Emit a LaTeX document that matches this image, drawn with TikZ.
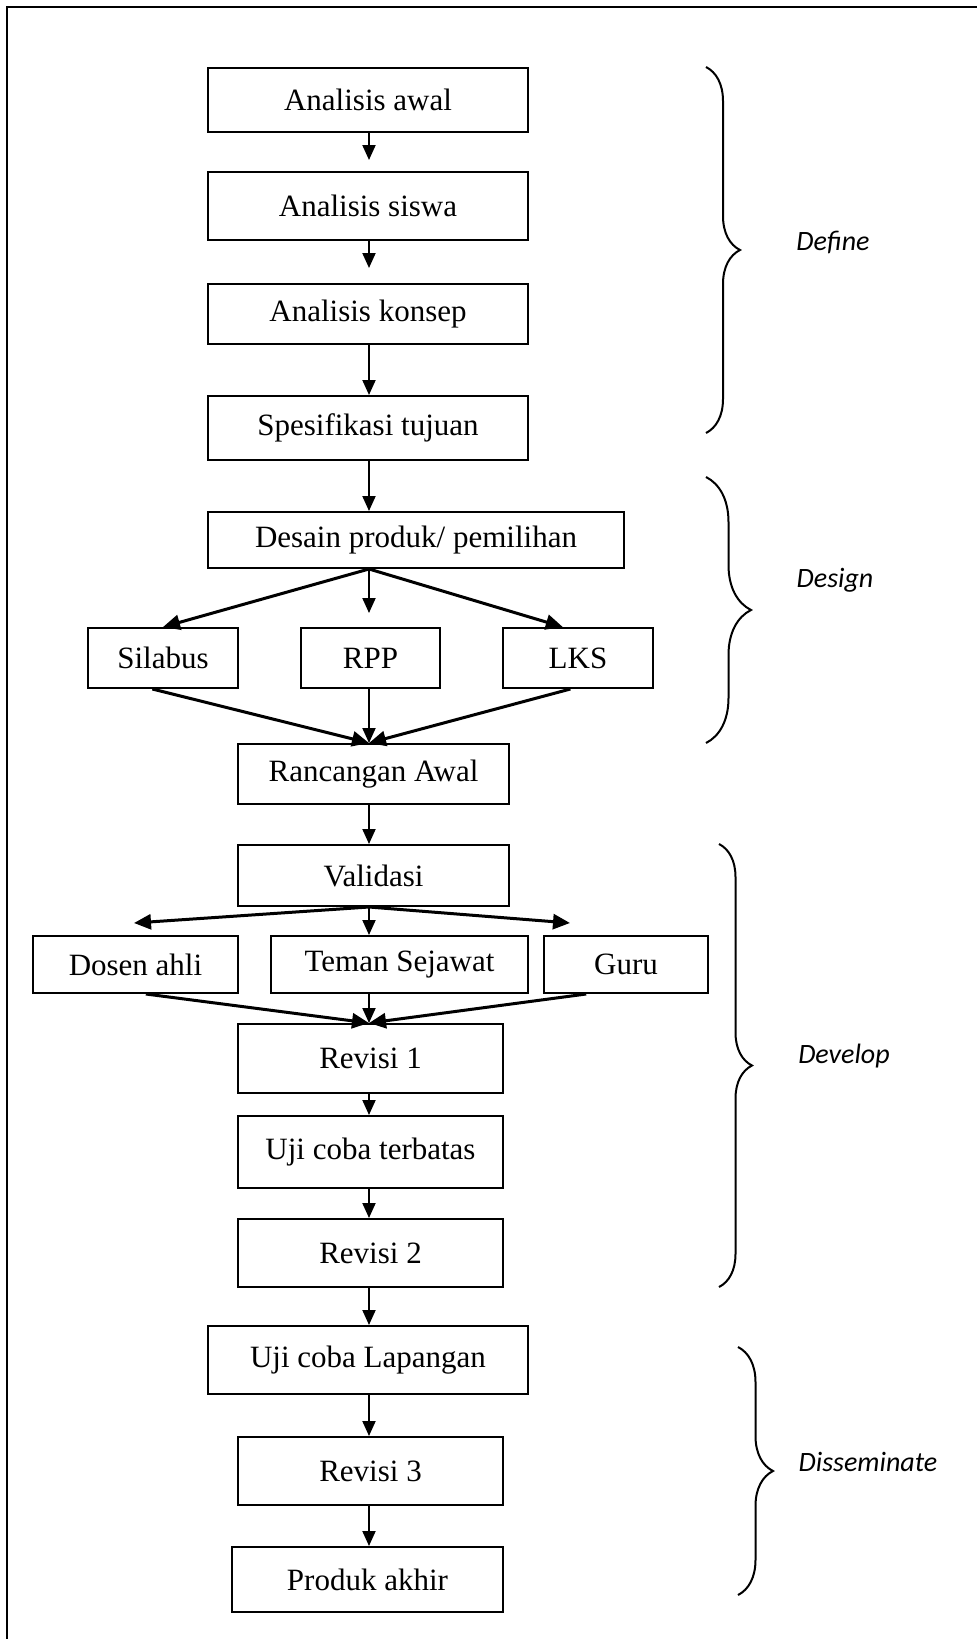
\documentclass[tikz,border=0pt]{standalone}
\usepackage{fontspec}
\setmainfont{Liberation Serif}
\newfontfamily\labfont{Carlito}
\usetikzlibrary{arrows.meta,calc,decorations.pathreplacing}
\begin{document}
\begin{tikzpicture}[x=1pt,y=-1pt,
 box/.style={draw,line width=2pt,inner sep=0pt,anchor=north west,font=\fontsize{31}{36}\selectfont},
 arr/.style={line width=2pt,-{Triangle[length=15pt,width=13pt]}},
 darr/.style={line width=3pt,-{Triangle[length=17pt,width=15pt]}},
 brc/.style={decorate,decoration={brace,amplitude=#1},line width=2pt},
 lab/.style={font=\labfont\itshape\fontsize{28}{34}\selectfont}]
\useasboundingbox (0,0) rectangle (977,1639);
\draw[line width=2.5pt] (7,1639) -- (7,7) -- (977,7);
\coordinate (mx) at (369,0);
% boxes
\node[box,minimum width=320pt,minimum height=64pt] (a1) at (207,67) {Analisis awal};
\node[box,minimum width=320pt,minimum height=68pt] (a2) at (207,171) {Analisis siswa};
\node[box,minimum width=320pt,minimum height=60pt] (a3) at (207,283) {Analisis konsep};
\node[box,minimum width=320pt,minimum height=64pt] (a4) at (207,395) {Spesifikasi tujuan};
\node[box,minimum width=416pt,minimum height=56pt] (d1) at (207,511) {Desain produk/ pemilihan};
\node[box,minimum width=150pt,minimum height=60pt] (s1) at (87,627) {Silabus};
\node[box,minimum width=139pt,minimum height=60pt] (s2) at (300,627) {RPP};
\node[box,minimum width=150pt,minimum height=60pt] (s3) at (502,627) {LKS};
\node[box,minimum width=271pt,minimum height=60pt] (r0) at (237,743) {Rancangan Awal};
\node[box,minimum width=271pt,minimum height=61pt] (v) at (237,844) {Validasi};
\node[box,minimum width=205pt,minimum height=57pt] (v1) at (32,935) {Dosen ahli};
\node[box,minimum width=257pt,minimum height=57pt] (v2) at (270,935) {Teman Sejawat};
\node[box,minimum width=164pt,minimum height=57pt] (v3) at (543,935) {Guru};
\node[box,minimum width=265pt,minimum height=69pt] (rv1) at (237,1023) {Revisi 1};
\node[box,minimum width=265pt,minimum height=72pt] (u1) at (237,1115) {Uji coba terbatas};
\node[box,minimum width=265pt,minimum height=68pt] (rv2) at (237,1218) {Revisi 2};
\node[box,minimum width=320pt,minimum height=68pt] (u2) at (207,1325) {Uji coba Lapangan};
\node[box,minimum width=265pt,minimum height=68pt] (rv3) at (237,1436) {Revisi 3};
\node[box,minimum width=271pt,minimum height=65pt] (pa) at (231,1546) {Produk akhir};
% free ends
\coordinate (dmid) at (369,613);
\coordinate (vl) at (134,923);
\coordinate (vr) at (570,923);
% vertical arrows
\draw[arr,shorten >=11pt] (a1.south -| mx) -- (a2.north -| mx);
\draw[arr,shorten >=15pt] (a2.south -| mx) -- (a3.north -| mx);
\draw[arr] (a3.south -| mx) -- (a4.north -| mx);
\draw[arr] (a4.south -| mx) -- (d1.north -| mx);
\draw[darr] (d1.south -| mx) -- (s1.north);
\draw[arr] (d1.south -| mx) -- (dmid);
\draw[darr] (d1.south -| mx) -- ($(s3.north west)!0.4!(s3.north east)$);
\draw[darr] ($(s1.south west)!0.43!(s1.south east)$) -- (r0.north -| mx);
\draw[arr] (s2.south -| mx) -- (r0.north -| mx);
\draw[darr] ($(s3.south west)!0.45!(s3.south east)$) -- (r0.north -| mx);
\draw[arr] (r0.south -| mx) -- (v.north -| mx);
\draw[darr] (v.south -| mx) -- (vl);
\draw[arr] (v.south -| mx) -- (v2.north -| mx);
\draw[darr] (v.south -| mx) -- (vr);
\draw[darr] ($(v1.south west)!0.55!(v1.south east)$) -- (rv1.north -| mx);
\draw[arr] (v2.south -| mx) -- (rv1.north -| mx);
\draw[darr] ($(v3.south west)!0.26!(v3.south east)$) -- (rv1.north -| mx);
\draw[arr] (rv1.south -| mx) -- (u1.north -| mx);
\draw[arr] (u1.south -| mx) -- (rv2.north -| mx);
\draw[arr] (rv2.south -| mx) -- (u2.north -| mx);
\draw[arr] (u2.south -| mx) -- (rv3.north -| mx);
\draw[arr] (rv3.south -| mx) -- (pa.north -| mx);
% braces
\coordinate (b1t) at (706,67);  \coordinate (b1b) at (706,433);
\coordinate (b2t) at (706,477); \coordinate (b2b) at (706,743);
\coordinate (b3t) at (719,844); \coordinate (b3b) at (719,1287);
\coordinate (b4t) at (738,1347); \coordinate (b4b) at (738,1595);
\draw[brc=34pt] (b1t) -- (b1b);
\draw[brc=45pt] (b2t) -- (b2b);
\draw[brc=33pt] (b3t) -- (b3b);
\draw[brc=35pt] (b4t) -- (b4b);
\node[lab] (ldef) at (833,242) {Define};
\node[lab] (ldes) at (835,580) {Design};
\node[lab] (ldev) at (844,1056) {Develop};
\node[lab] (ldis) at (868,1462) {Disseminate};
\end{tikzpicture}
\end{document}
